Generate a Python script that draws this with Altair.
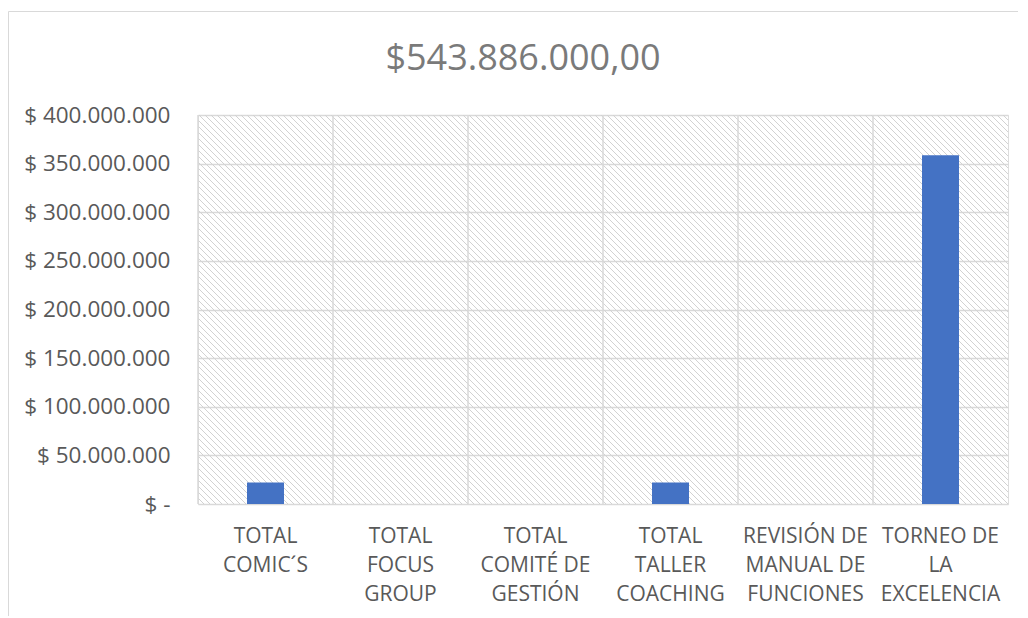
import altair as alt
import pandas as pd

categories = [
    "TOTAL\nCOMIC´S",
    "TOTAL\nFOCUS\nGROUP",
    "TOTAL\nCOMITÉ DE\nGESTIÓN",
    "TOTAL\nTALLER\nCOACHING",
    "REVISIÓN DE\nMANUAL DE\nFUNCIONES",
    "TORNEO DE\nLA\nEXCELENCIA",
]
values = [22200000, 0, 0, 22200000, 0, 358500000]
y_ticks = [0, 50000000, 100000000, 150000000, 200000000, 250000000,
           300000000, 350000000, 400000000]
title_text = "$543.886.000,00"

df = pd.DataFrame({"cat": categories, "val": values})

W, H = 810, 389
FONT = "Open Sans"
GRID = "#d9d9d9"
LABEL = "#595959"
HATCH_STEP = 6

one = pd.DataFrame({"k": [0]})

# outer chart-area border
outer = alt.Chart(one).mark_rect(filled=False, stroke=GRID, strokeWidth=1).encode(
    x=alt.value(-189.5), x2=alt.value(900), y=alt.value(-103.5), y2=alt.value(700)
)

# diagonal hatch pattern of the plot area (decoration)
hatch = (
    alt.Chart(alt.sequence(-H, W, HATCH_STEP, as_="x0"))
    .transform_calculate(x1="datum.x0 + height")
    .mark_rule(color="#d2d2d2", strokeWidth=1, clip=True)
    .encode(
        x=alt.X("x0:Q", scale=None, axis=None),
        x2="x1:Q",
        y=alt.value(0),
        y2=alt.value("height"),
    )
)

xscale = alt.Scale(domain=categories, paddingInner=0, paddingOuter=0)
x_axis = alt.Axis(
    labelExpr="split(datum.label, '\\n')",
    labelAngle=0,
    labelFont=FONT,
    labelFontSize=21,
    labelColor=LABEL,
    labelLineHeight=29,
    labelPadding=21,
    ticks=False,
    tickSize=0,
    domain=False,
    grid=False,
    labelLimit=300,
)

vrules = alt.Chart(df).mark_rule(color=GRID, strokeWidth=1.5).encode(
    x=alt.X("cat:N", bandPosition=0, scale=xscale, sort=categories, title=None,
            axis=x_axis)
)

bars = alt.Chart(df).mark_bar(color="#4472C4", size=37).encode(
    x=alt.X("cat:N", scale=xscale, sort=categories, title=None, axis=x_axis),
    y=alt.Y(
        "val:Q",
        scale=alt.Scale(domain=[0, 400000000], nice=False),
        title=None,
        axis=alt.Axis(
            values=y_ticks,
            labelExpr="datum.value == 0 ? '$ -\u00a0\u00a0' : '$ ' + replace(format(datum.value, ','), regexp(',', 'g'), '.')",
            labelFont=FONT,
            labelFontSize=22.5,
            labelColor=LABEL,
            labelPadding=28,
            ticks=False,
            tickSize=0,
            domain=False,
            grid=True,
            gridColor=GRID,
            gridWidth=1.5,
        ),
    ),
)

chart = (
    alt.layer(outer, hatch, vrules, bars)
    .properties(
        width=W,
        height=H,
        autosize=alt.AutoSizeParams(type="none"),
        padding={"left": 190, "top": 107, "right": 10, "bottom": 112},
        title=alt.TitleParams(
            title_text,
            font=FONT,
            fontSize=36,
            fontWeight="normal",
            color="#7a7a7a",
            anchor="middle",
            frame="group",
            dx=-80,
            offset=-67,
        ),
    )
    .configure_view(stroke=GRID, strokeWidth=1.5)
    .configure(background="white")
)

chart.save("out.html", embed_options={"renderer": "svg", "actions": False})
